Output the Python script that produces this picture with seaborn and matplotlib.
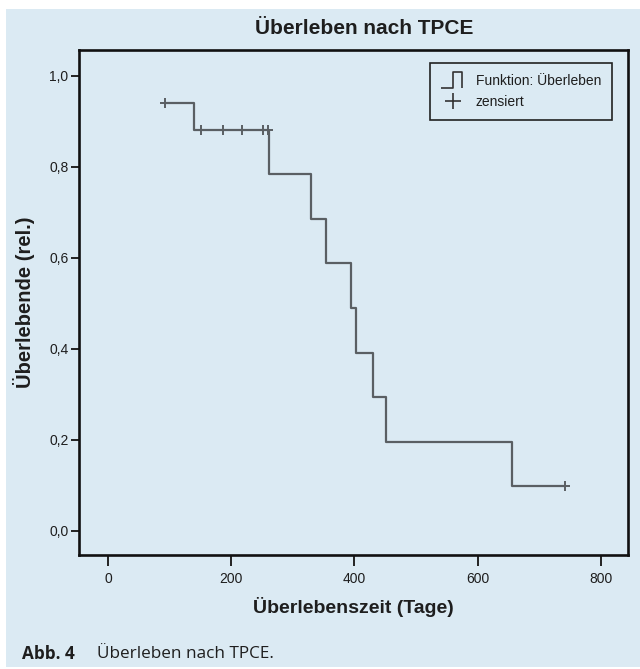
import matplotlib
matplotlib.use("Agg")
import matplotlib.pyplot as plt
import seaborn as sns
import numpy as np
import pandas as pd
from matplotlib.path import Path
from matplotlib.lines import Line2D
from matplotlib.patches import Rectangle

# Data (Kaplan-Meier curve)
step_times = [93, 139, 262, 330, 354, 395, 403, 430, 451, 655, 742]
step_surv = [0.941, 0.882, 0.784, 0.686, 0.588, 0.490, 0.392, 0.294, 0.196, 0.098, 0.098]
cens_times = [93, 151, 186, 218, 251, 259, 742]
cens_surv = [0.941, 0.882, 0.882, 0.882, 0.882, 0.882, 0.098]
x_ticks = [0, 200, 400, 600, 800]
y_ticks = [0.0, 0.2, 0.4, 0.6, 0.8, 1.0]
y_ticklabels = ["0,0", "0,2", "0,4", "0,6", "0,8", "1,0"]

sns.set_style("white")
plt.rcParams['font.family'] = ['Liberation Sans', 'DejaVu Sans']

BG = "#dbeaf3"
LINE = "#5a5f63"
TXT = "#1e1e1e"

fig = plt.figure(figsize=(6.4, 6.69), dpi=100)
fig.patch.set_facecolor("white")
fig.patches.append(Rectangle((6 / 640, 0.003), 1 - 6 / 640, 1 - 9 / 669 - 0.003,
                             transform=fig.transFigure, facecolor=BG,
                             edgecolor="none", zorder=-10))

ax = fig.add_axes([79 / 640, 1 - 555 / 669, 549 / 640, 505 / 669])
ax.set_facecolor(BG)

df = pd.DataFrame({"t": step_times, "s": step_surv})
sns.lineplot(data=df, x="t", y="s", drawstyle="steps-post", estimator=None,
             color=LINE, linewidth=1.6, ax=ax, sort=False)
dfc = pd.DataFrame({"t": cens_times, "s": cens_surv})
sns.scatterplot(data=dfc, x="t", y="s", marker="+", s=60, color=LINE,
                linewidth=1.4, ax=ax, zorder=3)

ax.set_xlim(-47, 844)
ax.set_ylim(-0.053, 1.057)
ax.set_xticks(x_ticks)
ax.set_xticklabels([str(v) for v in x_ticks])
ax.set_yticks(y_ticks)
ax.set_yticklabels(y_ticklabels)
ax.tick_params(axis="both", direction="out", width=1.4, color="#222222",
               labelsize=10, labelcolor=TXT, left=True, bottom=True)
ax.tick_params(axis="y", length=5.5, pad=2)
ax.tick_params(axis="x", length=8, pad=4)
for sp in ax.spines.values():
    sp.set_visible(True)
    sp.set_color("#111111")
    sp.set_linewidth(1.9)

ax.set_xlabel("Überlebenszeit (Tage)", fontsize=14, fontweight="bold",
              color=TXT, labelpad=8)
ax.set_ylabel("Überlebende (rel.)", fontsize=14.5, fontweight="bold",
              color=TXT, labelpad=10)

fig.text(364 / 640, 1 - 28 / 669, "Überleben nach TPCE", ha="center", va="center",
         fontsize=15, fontweight="bold", color=TXT)

# Legend
step_marker = Path([(-1.0, -0.7), (0.0, -0.7), (0.0, 0.7), (0.8, 0.7), (0.8, -0.7)],
                   [Path.MOVETO, Path.LINETO, Path.LINETO, Path.LINETO, Path.LINETO])
h1 = Line2D([], [], linestyle="none", marker=step_marker, markersize=17,
            markerfacecolor="none", markeredgecolor="#333333", markeredgewidth=1.2)
h2 = Line2D([], [], linestyle="none", marker="+", markersize=11,
            markeredgecolor="#333333", markeredgewidth=1.2)
leg = ax.legend([h1, h2], ["Funktion: Überleben", "zensiert"],
                loc="upper right", bbox_to_anchor=(0.971, 0.974),
                frameon=True, fancybox=False, fontsize=10, handlelength=1.8,
                handletextpad=0.7, borderpad=0.8, labelspacing=0.5,
                framealpha=1, borderaxespad=0)
leg.get_frame().set_edgecolor("#222222")
leg.get_frame().set_linewidth(1.2)
leg.get_frame().set_facecolor(BG)
for t in leg.get_texts():
    t.set_color(TXT)

# Caption
fig.text(22 / 640, 1 - 654 / 669, "Abb. 4", ha="left", va="center",
         fontsize=12.3, fontweight="bold", color=TXT, family=["Open Sans", "DejaVu Sans"])
fig.text(97 / 640, 1 - 654 / 669, "Überleben nach TPCE.", ha="left", va="center",
         fontsize=12.3, color=TXT, family=["Open Sans", "DejaVu Sans"])

fig.savefig("out.png", dpi=100, facecolor=fig.get_facecolor())
